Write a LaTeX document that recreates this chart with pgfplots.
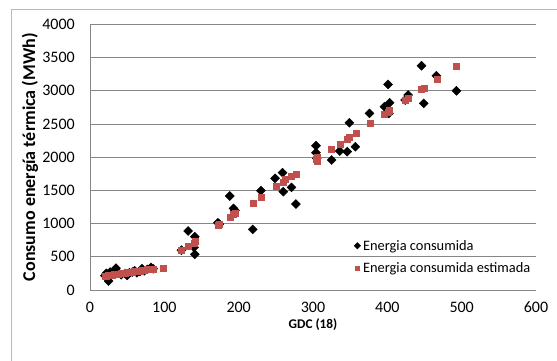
\documentclass[border=0pt]{standalone}
\usepackage{pgfplots}
\pgfplotsset{compat=1.18}
\usepackage{fontspec}
\setmainfont{Carlito}
\definecolor{gridc}{RGB}{134,134,134}
\definecolor{estc}{RGB}{192,80,77}
\definecolor{borderc}{RGB}{185,185,185}
\begin{document}
\begin{tikzpicture}[x=1pt,y=1pt]
\path[use as bounding box] (-90,-71) rectangle (467,290);
\draw[borderc, line width=0.9pt] (-79,-75) -- (-79,281) -- (470,281);
\begin{axis}[
  at={(0pt,0pt)}, anchor=south west,
  scale only axis, width=446pt, height=265.7pt,
  xmin=0, xmax=600, ymin=0, ymax=4000,
  xtick={0,100,...,600}, ytick={0,500,...,4000},
  axis x line*=bottom, axis y line*=left,
  axis line style={gridc, line width=0.8pt, -},
  ymajorgrids, grid style={gridc, line width=0.8pt},
  major tick length=0pt,
  scaled ticks=false,
  /pgf/number format/1000 sep={},
  /pgf/number format/assume math mode=true,
  tick label style={font=\fontsize{16}{18}\selectfont, black},
  xticklabel style={anchor=center, yshift=-17pt},
  yticklabel style={anchor=east, inner sep=0pt, xshift=-15pt},
  xlabel={\textbf{GDC (18)}},
  ylabel={\textbf{Consumo energía térmica (MWh)}},
  every axis x label/.style={at={(axis description cs:0.5,0)}, anchor=center, yshift=-35pt, font=\fontsize{13.3}{15}\selectfont},
  every axis y label/.style={at={(axis description cs:-0.1345,0.5)}, anchor=center, rotate=90, font=\fontsize{18}{20}\selectfont},
  legend style={draw=none, fill=none, at={(axis description cs:0.585,0.124)}, anchor=west,
    font=\fontsize{14.4}{16}\selectfont, row sep=8pt, column sep=1pt, nodes={inner sep=1.5pt}},
  legend cell align=left,
  legend image code/.code={\draw[#1, mark size=2.3pt, only marks] plot coordinates {(0pt,0pt)};},
]
\addplot[only marks, mark=square*, mark options={rotate=45, fill=black, draw=black}, mark size=3.2pt] coordinates {
(20,215) (22,250) (25,135) (27,270) (30,240) (33,290) (35,330) (38,260) (42,230) (47,250)
(50,220) (53,260) (57,270) (60,290) (63,260) (67,280) (70,320) (73,290) (77,310) (82,340) (85,320)
(123,600) (132,888) (140,642) (141,803) (141,537) (172,1013) (174,990) (188,1415) (193,1229) (195,1200)
(219,913) (230,1495) (249,1681) (259,1766) (260,1480) (271,1545) (277,1294)
(304,2172) (304,2067) (305,1982) (325,1957) (336,2092) (346,2082) (349,2518) (357,2157)
(376,2659) (396,2759) (401,3095) (402,2659) (403,2819) (424,2860) (428,2935)
(446,3376) (449,2809) (466,3225) (493,2999)
};
\addlegendentry{Energia consumida}
\addplot[only marks, mark=square*, mark options={fill=estc, draw=estc}, mark size=3pt] coordinates {
(20,210) (22,213) (25,218) (27,222) (30,227) (33,232) (35,236) (38,241) (42,247) (47,256)
(50,261) (53,266) (57,273) (60,278) (63,283) (67,290) (70,295) (73,300) (77,307) (82,315) (85,320) (98,330)
(123,602) (132,652) (140,700) (141,742) (172,968) (174,985) (188,1094) (193,1139) (195,1150)
(219,1314) (230,1395) (251,1565) (260,1630) (263,1666) (271,1706) (277,1746)
(304,1967) (305,1942) (305,2000) (325,2117) (336,2197) (346,2273) (349,2293) (358,2358)
(377,2508) (396,2644) (401,2684) (403,2709) (424,2860) (428,2885)
(446,3020) (449,3035) (467,3171) (493,3371)
};
\addlegendentry{Energia consumida estimada}
\end{axis}
\end{tikzpicture}
\end{document}
